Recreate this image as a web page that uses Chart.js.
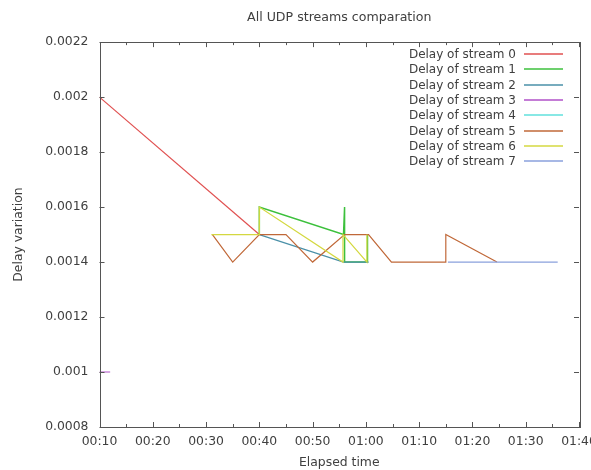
<!DOCTYPE html>
<html>
<head>
<meta charset="utf-8">
<title>All UDP streams comparation</title>
<script src="https://cdn.jsdelivr.net/npm/chart.js@4"></script>
<style>
  html, body { margin: 0; padding: 0; background: #fff; }
  #chart { display: block; }
</style>
</head>
<body>
<canvas id="chart" width="591" height="470"></canvas>
<script>
(() => {
  "use strict";

// Data (elapsed seconds / delay variation)
const streamNames = [
  "Delay of stream 0", "Delay of stream 1", "Delay of stream 2", "Delay of stream 3",
  "Delay of stream 4", "Delay of stream 5", "Delay of stream 6", "Delay of stream 7"
];

const s0Time = [10, 40];
const s0Delay = [0.002, 0.0015];

const s1Time = [40, 40, 55.8, 56, 56, 60.3, 60.3];
const s1Delay = [0.0015, 0.0016, 0.0015, 0.0016, 0.0014, 0.0014, 0.0015];

const s2Time = [40, 55.8, 60.5];
const s2Delay = [0.0015, 0.0014, 0.0014];

const s3Time = [10, 12];
const s3Delay = [0.001, 0.001];

const s4Time = [];
const s4Delay = [];

const s5Time = [31.2, 35, 40, 45, 50, 56, 60.5, 64.8, 75, 75, 84.6];
const s5Delay = [0.0015, 0.0014, 0.0015, 0.0015, 0.0014, 0.0015, 0.0015, 0.0014, 0.0014, 0.0015, 0.0014];

const s6Time = [31, 40, 40, 55.7, 55.7, 60.2, 60.2];
const s6Delay = [0.0015, 0.0015, 0.0016, 0.0014, 0.0015, 0.0014, 0.0015];

const s7Time = [75.4, 96];
const s7Delay = [0.0014, 0.0014];

const streamTimes = [s0Time, s1Time, s2Time, s3Time, s4Time, s5Time, s6Time, s7Time];
const streamDelays = [s0Delay, s1Delay, s2Delay, s3Delay, s4Delay, s5Delay, s6Delay, s7Delay];

const xMin = 10, xMax = 100, xStep = 10;
const yMin = 0.0008, yMax = 0.0022, yStep = 0.0002;

const colors = ["#e05050", "#3cc03c", "#4a90a8", "#b050c8", "#60e0dc", "#c06838", "#d4d840", "#8aa0dc"];
const textColor = "#404040";
const axisColor = "#555555";
const FONT = "'DejaVu Sans', sans-serif";

const mmss = (t) => {
  const m = Math.floor(t / 60);
  const s = Math.round(t % 60);
  return String(m).padStart(2, "0") + ":" + String(s).padStart(2, "0");
};

const datasets = streamNames.map((name, i) => ({
  label: name,
  data: streamTimes[i].map((t, k) => ({ x: t, y: streamDelays[i][k] })),
  borderColor: colors[i],
  backgroundColor: colors[i],
  borderWidth: i === 1 ? 1.5 : 1.2,
  pointRadius: 0,
  tension: 0,
  fill: false,
  order: streamNames.length - i
}));

// gnuplot-like frame with inward ticks, mirrored on top/right
const framePlugin = {
  id: "frame",
  afterDatasetsDraw(chart) {
    const { ctx, chartArea: a, scales } = chart;
    const xs = scales.x, ys = scales.y;
    ctx.save();
    ctx.strokeStyle = axisColor;
    ctx.lineWidth = 1;
    ctx.strokeRect(Math.round(a.left) + 0.5, Math.round(a.top) + 0.5,
      Math.round(a.right - a.left), Math.round(a.bottom - a.top));

    ctx.beginPath();
    xs.ticks.forEach(tk => {
      const px = Math.round(xs.getPixelForValue(tk.value)) + 0.5;
      ctx.moveTo(px, a.bottom); ctx.lineTo(px, a.bottom - 5);
      ctx.moveTo(px, a.top); ctx.lineTo(px, a.top + 5);
      const mid = tk.value + xStep / 2;
      if (mid < xMax) {
        const pm = Math.round(xs.getPixelForValue(mid)) + 0.5;
        ctx.moveTo(pm, a.bottom); ctx.lineTo(pm, a.bottom - 3);
        ctx.moveTo(pm, a.top); ctx.lineTo(pm, a.top + 3);
      }
    });
    ys.ticks.forEach(tk => {
      const py = Math.round(ys.getPixelForValue(tk.value)) + 0.5;
      ctx.moveTo(a.left, py); ctx.lineTo(a.left + 5, py);
      ctx.moveTo(a.right, py); ctx.lineTo(a.right - 5, py);
    });
    ctx.stroke();
    ctx.restore();
  }
};

// legend inside the plot, text right aligned, sample line on the right
const keyPlugin = {
  id: "key",
  afterDraw(chart) {
    const { ctx } = chart;
    const textRight = 516, lineX0 = 524, lineX1 = 563, y0 = 54, dy = 15.3;
    ctx.save();
    ctx.font = "12px " + FONT;
    ctx.textAlign = "right";
    ctx.textBaseline = "middle";
    streamNames.forEach((name, i) => {
      const y = y0 + i * dy;
      ctx.fillStyle = textColor;
      ctx.fillText(name, textRight, y + 1);
      ctx.strokeStyle = colors[i];
      ctx.lineWidth = 1.5;
      ctx.beginPath();
      ctx.moveTo(lineX0, Math.round(y));
      ctx.lineTo(lineX1, Math.round(y));
      ctx.stroke();
    });
    ctx.restore();
  }
};

new Chart(document.getElementById("chart"), {
  type: "line",
  data: { datasets },
  options: {
    responsive: false,
    animation: false,
    layout: { padding: { left: 0, right: 12, top: 0, bottom: 0 } },
    plugins: {
      legend: { display: false },
      tooltip: { enabled: false },
      title: {
        display: true,
        fullSize: false,
        text: "All UDP streams comparation",
        color: textColor,
        font: { family: FONT, size: 12.6, weight: "normal" },
        padding: { top: 10, bottom: 17 }
      }
    },
    scales: {
      x: {
        type: "linear",
        min: xMin, max: xMax,
        grid: { display: false, drawTicks: false },
        border: { display: false },
        ticks: {
          stepSize: xStep,
          maxRotation: 0,
          autoSkip: false,
          padding: 7,
          color: textColor,
          font: { family: FONT, size: 12.4 },
          callback: (v) => mmss(v)
        },
        title: {
          display: true,
          text: "Elapsed time",
          color: textColor,
          font: { family: FONT, size: 12.4 },
          padding: { top: 0, bottom: 0 }
        },
        afterFit: (s) => { s.height = 43; s.paddingLeft = 0; s.paddingRight = 0; }
      },
      y: {
        type: "linear",
        min: yMin, max: yMax,
        grid: { display: false, drawTicks: false },
        border: { display: false },
        ticks: {
          stepSize: yStep,
          padding: 11,
          color: textColor,
          font: { family: FONT, size: 12.4 },
          callback: (v) => String(Number(v.toFixed(4)))
        },
        title: {
          display: true,
          text: "Delay variation",
          color: textColor,
          font: { family: FONT, size: 12.4 },
          padding: { top: 11, bottom: 0 }
        },
        afterFit: (s) => { s.width = 99.5; s.paddingTop = 0; s.paddingBottom = 0; }
      }
    }
  },
  plugins: [framePlugin, keyPlugin]
});
})();
</script>
</body>
</html>
